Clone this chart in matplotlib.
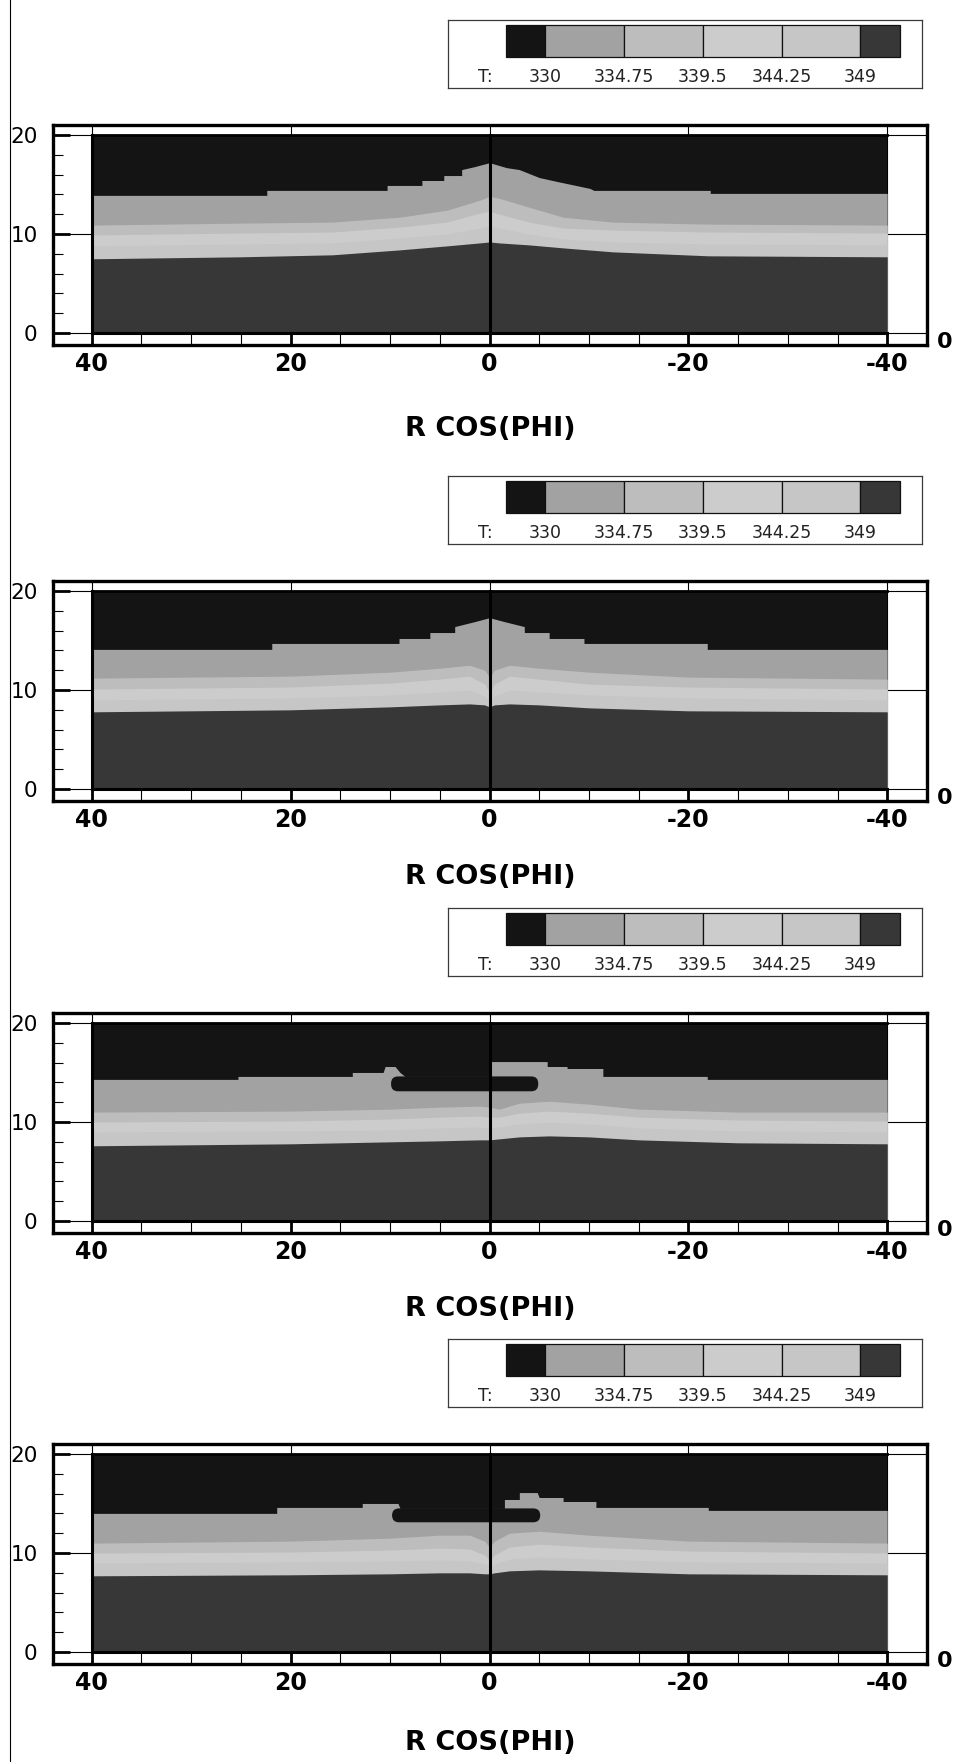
import matplotlib.pyplot as plt
from matplotlib.patches import Rectangle, FancyBboxPatch
from matplotlib.lines import Line2D
from matplotlib.ticker import MultipleLocator

plt.rcParams['font.family'] = ['DejaVu Sans']

# contour levels of T and the fill of each band (below 330 ... above 349)
levels = [330, 334.75, 339.5, 344.25, 349]
level_labels = ['330', '334.75', '339.5', '344.25', '349']
band_colors = ['#141414', '#a2a2a2', '#bdbdbd', '#cccccc', '#c6c6c6', '#373737']

# ---- frame 1 ----
p1_t330_x = [40, 22.4, 22.4, 10.3, 10.3, 6.8, 6.8, 4.6, 4.6, 2.8, 2.8, 1.5, 0,
             -1.7, -3.0, -5.0, -6.8, -10.1, -10.5, -22.2, -22.2, -40]
p1_t330_y = [13.9, 13.9, 14.4, 14.4, 14.9, 14.9, 15.4, 15.4, 15.9, 15.9, 16.5, 16.8, 17.2,
             16.7, 16.5, 15.7, 15.3, 14.6, 14.4, 14.4, 14.1, 14.1]
p1_x = [40, 25, 15.8, 9, 4.3, 1, 0, -1, -4, -7.4, -12.4, -22, -40]
p1_t334 = [10.9, 11.1, 11.2, 11.7, 12.4, 13.4, 13.8, 13.6, 12.7, 11.7, 11.2, 11.0, 10.9]
p1_t339 = [9.9, 10.1, 10.2, 10.7, 11.2, 12.1, 12.3, 12.0, 11.2, 10.6, 10.4, 10.2, 10.1]
p1_t344 = [8.8, 9.0, 9.1, 9.6, 10.0, 10.6, 10.8, 10.6, 10.0, 9.5, 9.2, 9.0, 8.9]
p1_t349 = [7.5, 7.7, 7.9, 8.4, 8.8, 9.1, 9.2, 9.1, 8.9, 8.6, 8.2, 7.8, 7.7]

# ---- frame 2 ----
p2_t330_x = [40, 21.9, 21.9, 9.1, 9.1, 6, 6, 3.5, 3.5, 1.5, 0, -1.5, -3.5, -3.5,
             -6, -6, -9.5, -9.5, -21.9, -21.9, -40]
p2_t330_y = [14.1, 14.1, 14.7, 14.7, 15.2, 15.2, 15.8, 15.8, 16.4, 16.9, 17.3, 16.9, 16.4, 15.8,
             15.8, 15.2, 15.2, 14.7, 14.7, 14.1, 14.1]
p2_x = [40, 20, 10, 5, 2, 0.5, 0, -0.5, -2, -5, -10, -20, -40]
p2_t334 = [11.2, 11.4, 11.8, 12.2, 12.5, 12.0, 11.3, 12.0, 12.5, 12.2, 11.8, 11.3, 11.1]
p2_t339 = [10.1, 10.3, 10.7, 11.1, 11.4, 10.6, 9.8, 10.6, 11.4, 11.1, 10.6, 10.3, 10.1]
p2_t344 = [9.0, 9.2, 9.5, 9.8, 10.0, 9.4, 9.0, 9.4, 10.0, 9.8, 9.5, 9.2, 9.0]
p2_t349 = [7.8, 8.0, 8.3, 8.5, 8.6, 8.5, 8.3, 8.5, 8.6, 8.5, 8.2, 7.9, 7.8]

# ---- frame 3 ----
p3_t330_x = [40, 25.3, 25.3, 13.8, 13.8, 10.7, 10.5, 9.5, 9.0, 8.5, 0, 0,
             -5.8, -5.8, -7.8, -7.8, -11.4, -11.4, -21.9, -21.9, -40]
p3_t330_y = [14.3, 14.3, 14.6, 14.6, 15.0, 15.0, 15.6, 15.6, 15.0, 14.6, 14.6, 16.1,
             16.1, 15.6, 15.6, 15.4, 15.4, 14.6, 14.6, 14.3, 14.3]
p3_x = [40, 20, 10, 5, 1, 0, -1, -3, -6, -10, -15, -25, -40]
p3_t334 = [11.0, 11.1, 11.3, 11.5, 11.6, 11.5, 11.3, 11.9, 12.1, 11.8, 11.3, 11.0, 11.0]
p3_t339 = [10.0, 10.1, 10.3, 10.5, 10.6, 10.5, 10.5, 10.9, 11.1, 10.9, 10.5, 10.2, 10.1]
p3_t344 = [9.0, 9.1, 9.2, 9.4, 9.5, 9.4, 9.5, 9.8, 10.0, 9.8, 9.4, 9.1, 9.0]
p3_t349 = [7.6, 7.8, 8.0, 8.1, 8.2, 8.2, 8.3, 8.5, 8.6, 8.5, 8.2, 7.9, 7.8]
p3_cold = [9.9, -4.9, 13.1, 14.6]   # x from, x to, y from, y to

# ---- frame 4 ----
p4_t330_x = [40, 21.4, 21.4, 12.8, 12.8, 9.2, 9.0, -1.5, -1.5, -3.0, -3.0, -4.8, -5.0,
             -7.4, -7.4, -10.7, -10.7, -22.0, -22.0, -40]
p4_t330_y = [14.0, 14.0, 14.6, 14.6, 15.0, 15.0, 14.5, 14.5, 15.4, 15.4, 16.1, 16.1, 15.6,
             15.6, 15.2, 15.2, 14.6, 14.6, 14.3, 14.3]
p4_x = [40, 20, 10, 5, 2, 0.5, 0, -0.5, -2, -5, -10, -20, -40]
p4_t334 = [11.0, 11.2, 11.5, 11.8, 11.8, 11.2, 10.6, 11.2, 12.0, 12.2, 11.8, 11.2, 11.0]
p4_t339 = [10.0, 10.1, 10.3, 10.5, 10.4, 9.8, 9.3, 9.8, 10.6, 10.9, 10.6, 10.2, 10.0]
p4_t344 = [9.0, 9.1, 9.2, 9.3, 9.2, 8.9, 8.6, 8.9, 9.4, 9.6, 9.4, 9.1, 9.0]
p4_t349 = [7.7, 7.8, 7.9, 8.0, 8.0, 7.9, 7.9, 8.0, 8.2, 8.3, 8.2, 7.9, 7.8]
p4_cold = [9.8, -5.1, 13.1, 14.5]

panels = [
    (p1_t330_x, p1_t330_y, p1_x, [p1_t334, p1_t339, p1_t344, p1_t349], None),
    (p2_t330_x, p2_t330_y, p2_x, [p2_t334, p2_t339, p2_t344, p2_t349], None),
    (p3_t330_x, p3_t330_y, p3_x, [p3_t334, p3_t339, p3_t344, p3_t349], p3_cold),
    (p4_t330_x, p4_t330_y, p4_x, [p4_t334, p4_t339, p4_t344, p4_t349], p4_cold),
]

W, H = 958, 1762
data_top_px = [135, 591, 1023, 1454]     # pixel row of y = 20 in each frame
xlabel_px = [429, 877, 1309, 1743]

fig = plt.figure(figsize=(W / 100, H / 100), dpi=100)
fig.add_artist(Line2D([10 / W, 10 / W], [0, 1], transform=fig.transFigure,
                      color='black', lw=0.8))

for (t330_x, t330_y, xs, lines, cold), top, lab_y in zip(panels, data_top_px, xlabel_px):
    # plot frame
    ax_top, ax_bot = top - 10, top + 210
    ax = fig.add_axes([53 / W, 1 - ax_bot / H, 874 / W, (ax_bot - ax_top) / H])
    ax.set_xlim(43.9, -44.0)
    ax.set_ylim(-1.2, 21.0)

    ax.add_patch(Rectangle((-40, 0), 80, 20, color=band_colors[0], lw=0, zorder=1))
    ax.fill_between(t330_x, 0, t330_y, color=band_colors[1], lw=0, zorder=1)
    for k, ys in enumerate(lines):
        ax.fill_between(xs, 0, ys, color=band_colors[k + 2], lw=0, zorder=1)
    if cold is not None:
        x0, x1, y0, y1 = cold
        ax.add_patch(FancyBboxPatch((min(x0, x1), y0), abs(x1 - x0), y1 - y0,
                                    boxstyle='round,pad=0,rounding_size=0.7',
                                    color=band_colors[0], lw=0, zorder=1.5))

    ax.plot([0, 0], [0, 20], color='black', lw=2.2, zorder=3)
    ax.plot([40, 40], [0, 20], color='black', lw=2.2, zorder=3)
    ax.plot([40, -40], [0, 0], color='black', lw=2.2, zorder=3)
    ax.plot([40, -40], [20, 20], color='black', lw=2.0, zorder=3)

    for s in ax.spines.values():
        s.set_linewidth(2.4)
    ax.set_xticks([40, 20, 0, -20, -40])
    ax.set_xticklabels(['40', '20', '0', '-20', '-40'])
    ax.xaxis.set_minor_locator(MultipleLocator(5))
    ax.set_yticks([0, 10, 20])
    ax.set_yticklabels(['0', '10', '20'])
    ax.yaxis.set_minor_locator(MultipleLocator(2))
    ax.tick_params(axis='x', which='both', direction='in', top=False, length=8.5,
                   pad=5, labelsize=17)
    ax.tick_params(axis='x', which='major', width=2.0)
    ax.tick_params(axis='x', which='minor', width=0.8)
    ax.tick_params(axis='y', which='major', direction='in', right=False, length=12,
                   width=2.0, pad=11, labelsize=15.5)
    ax.tick_params(axis='y', which='minor', direction='in', right=False, length=7,
                   width=0.8)
    for t in ax.get_xticklabels():
        t.set_fontweight('bold')
    ax.grid(True, which='major', color='black', lw=0.8)
    ax.set_axisbelow(True)

    ax.annotate('0', xy=(1, 0), xycoords='axes fraction', xytext=(13, 2),
                textcoords='offset points', ha='center', va='center',
                fontsize=16, fontweight='bold')
    fig.text(490 / W, 1 - lab_y / H, 'R COS(PHI)', ha='center', va='center',
             fontsize=19.5, fontweight='bold')

    # level legend above the frame
    lg_top = top - 115
    lg = fig.add_axes([448 / W, 1 - (lg_top + 68) / H, 474 / W, 68 / H])
    lg.set_xlim(-1.23, 4.78)
    lg.set_ylim(68, 0)
    lg.set_xticks([])
    lg.set_yticks([])
    for s in lg.spines.values():
        s.set_linewidth(0.9)
        s.set_color('#3a3a3a')
    for k, c in enumerate(band_colors):
        x_lo = max(k - 1, -0.5)
        x_hi = min(k, 4.5)
        lg.add_patch(Rectangle((x_lo, 5), x_hi - x_lo, 32, facecolor=c,
                               edgecolor='#111111', lw=0.9))
    lg.text(-0.76, 57, 'T:', ha='center', va='center', fontsize=12.5, color='#222222')
    for k, lab in enumerate(level_labels):
        lg.text(k, 57, lab, ha='center', va='center', fontsize=12.5, color='#222222')

fig.savefig('out.png', dpi=100)
